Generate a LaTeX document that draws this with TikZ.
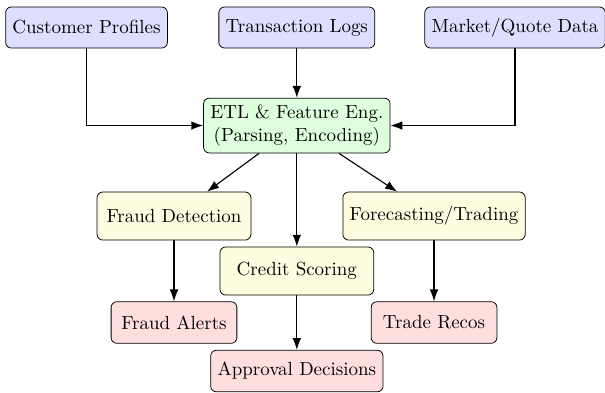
\documentclass[tikz,border=0pt]{standalone}
\usepackage{tikz}
\usetikzlibrary{arrows.meta}

\begin{document}
\begin{tikzpicture}[
    box/.style={draw,rounded corners=3pt,align=center,inner sep=3.6pt},
    srcbox/.style={box,fill=blue!13,minimum height=0.76cm},
    etlbox/.style={box,fill=green!13},
    taskbox/.style={box,fill=yellow!12,minimum height=0.89cm,minimum width=2.85cm},
    outbox/.style={box,fill=red!13,minimum height=0.77cm,minimum width=2.33cm},
    flow/.style={semithick,-{Latex[length=2.2mm,width=1.6mm]}}]

        \useasboundingbox (0,0) rectangle (11.21,-7.28);

        % sources
        \node[srcbox] (cust) at (1.603,-0.51) {Customer Profiles};
        \node[srcbox] (trans) at (5.5,-0.51) {Transaction Logs};
        \node[srcbox] (market) at (9.543,-0.51) {Market/Quote Data};

        \node[etlbox] (etl) at (5.5,-2.326) {ETL \& Feature Eng.\\(Parsing, Encoding)};

        % models
        \node[taskbox] (fraud) at (3.224,-4.003) {Fraud Detection};
        \node[taskbox] (credit) at (5.5,-5.022) {Credit Scoring};
        \node[taskbox] (fcst) at (8.042,-4.003) {Forecasting/Trading};

        % outputs
        \node[outbox] (alerts) at (3.224,-5.976) {Fraud Alerts};
        \node[outbox] (approve) at (5.5,-6.875) {Approval Decisions};
        \node[outbox] (recos) at (8.042,-5.976) {Trade Recos};

        \draw[flow] (cust) |- (etl);
        \draw[flow] (trans) -- (etl);
        \draw[flow] (market) |- (etl);

        \foreach \n in {fraud,credit,fcst} \draw[flow] (etl) -- (\n);

        \draw[flow] (fraud) -- (alerts);
        \draw[flow] (credit) -- (approve);
        \draw[flow] (fcst) -- (recos);

\end{tikzpicture}
\end{document}
